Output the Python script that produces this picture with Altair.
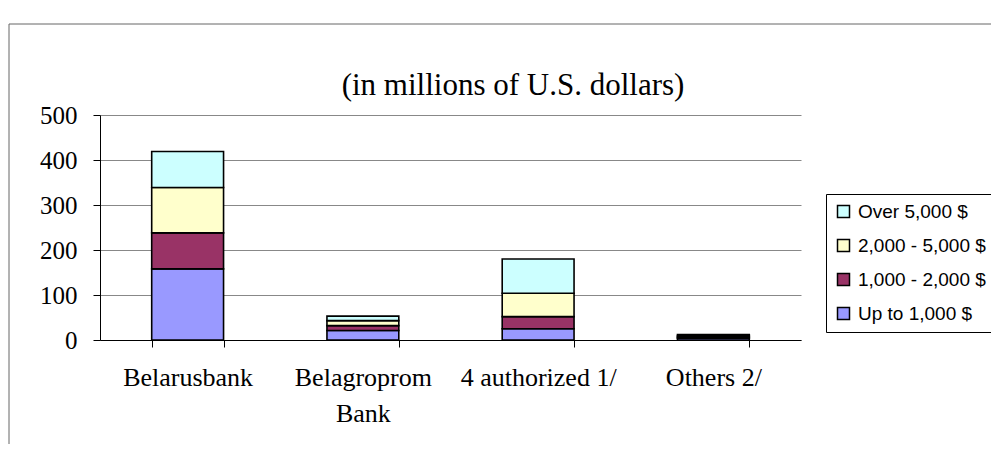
import altair as alt
import pandas as pd

categories = ["Belarusbank", "Belagroprom Bank", "4 authorized 1/", "Others 2/"]
series_names = ["Up to 1,000 $", "1,000 - 2,000 $", "2,000 - 5,000 $", "Over 5,000 $"]
up_to_1000 = [158, 21, 25, 4]
from_1000_to_2000 = [80, 11, 27, 2]
from_2000_to_5000 = [101, 11, 52, 3]
over_5000 = [80, 10, 76, 3]
series_colors = ["#9999FF", "#993366", "#FFFFCC", "#CCFFFF"]
y_ticks = [0, 100, 200, 300, 400, 500]
title_text = "(in millions of U.S. dollars)"

rows = []
for s_idx, (name, vals) in enumerate(zip(series_names, [up_to_1000, from_1000_to_2000, from_2000_to_5000, over_5000])):
    for cat, v in zip(categories, vals):
        rows.append({"category": cat, "series": name, "value": v, "rank": s_idx})
df = pd.DataFrame(rows)

serif = "Liberation Serif"
sans = "Liberation Sans"

bars = alt.Chart(df).mark_bar(stroke="black", strokeWidth=1.6).encode(
    x=alt.X("category:N", sort=categories, title=None,
            scale=alt.Scale(paddingInner=0.59, paddingOuter=0.295),
            axis=alt.Axis(labelAngle=0, labelFont=serif, labelFontSize=26, labelColor="black",
                          labelPadding=17, labelLineHeight=36, tickBand="extent",
                          tickSize=7, tickColor="black", domainColor="black", grid=False,
                          labelExpr="datum.label == 'Belagroprom Bank' ? ['Belagroprom', 'Bank'] : datum.label")),
    y=alt.Y("value:Q", stack="zero", title=None,
            scale=alt.Scale(domain=[0, 500], nice=False),
            axis=alt.Axis(values=y_ticks, labelFont=serif, labelFontSize=25, labelColor="black",
                          labelPadding=16, tickSize=7, tickColor="black", domainColor="black",
                          grid=True, gridColor="#888888", gridWidth=1)),
    color=alt.Color("series:N",
                    scale=alt.Scale(domain=series_names[::-1], range=series_colors[::-1]),
                    legend=alt.Legend(title=None, orient="none", legendX=726, legendY=79,
                                      strokeColor="black", fillColor="white", padding=8,
                                      symbolType="square", symbolSize=144,
                                      symbolStrokeColor="black", symbolStrokeWidth=1.5,
                                      labelFont=sans, labelFontSize=19, labelColor="black",
                                      rowPadding=14, labelOffset=5)),
    order=alt.Order("rank:Q", sort="ascending"),
)

one = pd.DataFrame({"a": [0]})
left_border = alt.Chart(one).mark_rule(color="#666666", strokeWidth=1).encode(
    x=alt.value(-91), y=alt.value(-91), y2=alt.value(420))
top_border = alt.Chart(one).mark_rule(color="#666666", strokeWidth=1).encode(
    x=alt.value(-91), x2=alt.value(950), y=alt.value(-91))
title = alt.Chart(one).mark_text(font=serif, fontSize=31, color="black", align="center",
                                 baseline="alphabetic").encode(
    x=alt.value(413), y=alt.value(-20), text=alt.value(title_text))

chart = alt.layer(left_border, top_border, bars, title).properties(
    width=701, height=225,
    padding={"left": 92, "top": 107, "right": 190, "bottom": 104},
    autosize=alt.AutoSizeParams(type="none"),
    background="white",
).configure_view(stroke=None)

chart.save("out.html", embed_options={"renderer": "svg", "actions": False})
